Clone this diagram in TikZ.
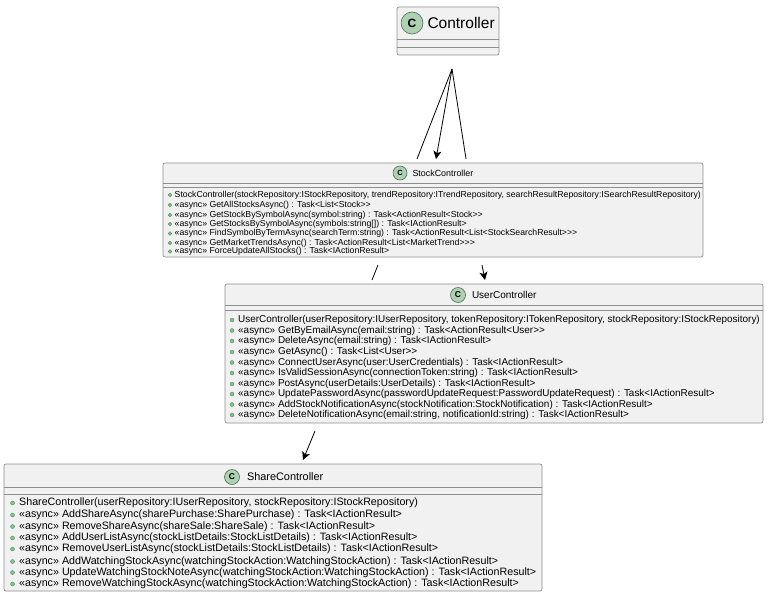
\documentclass[tikz,border=0pt]{standalone}
\usepackage{fontspec}
\setmainfont{Liberation Sans}[Ligatures=TeXOff]
\usetikzlibrary{arrows.meta,positioning}
\definecolor{boxfill}{HTML}{F1F1F1}
\definecolor{boxline}{HTML}{8E8E8E}
\definecolor{spot}{HTML}{ADD1B2}
\definecolor{spotline}{HTML}{4F6F55}
\definecolor{dotfill}{HTML}{84BE84}
\definecolor{dotline}{HTML}{3F8F5F}
\tikzset{
  cls/.style={draw=boxline,fill=boxfill,rounded corners=2pt,line width=0.7pt,inner sep=0pt},
  sepl/.style={draw=boxline,line width=0.7pt},
  spotc/.style={circle,draw=spotline,fill=spot,line width=0.6pt,inner sep=0pt,font=\bfseries},
  ttl/.style={anchor=west,inner sep=0pt},
  meth/.style={anchor=west,inner sep=0pt,yshift=-1pt},
  mdot/.style={circle,draw=dotline,fill=dotfill,line width=0.3pt,inner sep=0pt,minimum size=4pt},
  arr/.style={-{Stealth[length=8pt,width=8pt,inset=2pt]},line width=0.8pt,color=black},
  lnk/.style={line width=0.8pt,color=black},
}
\begin{document}
\begin{tikzpicture}[x=1pt,y=-1pt]
\useasboundingbox (0,0) rectangle (773,602);
% classes
\node[cls,minimum width=102pt,minimum height=48pt] (ctl) at (448,31) {};
\node[cls,minimum width=540pt,minimum height=94pt] (stock) at (433,210) {};
\node[cls,minimum width=538pt,minimum height=139pt] (user) at (494,353.5) {};
\node[cls,minimum width=538pt,minimum height=127pt] (share) at (273,527.5) {};
\draw[sepl] (397,39)--(499,39) (397,47)--(499,47);
\draw[sepl] (163,183)--(703,183) (163,187)--(703,187);
\draw[sepl] (225,305)--(763,305) (225,310)--(763,310);
\draw[sepl] (4,487)--(542,487) (4,494)--(542,494);
% headers
\node[spotc,minimum size=22pt,font=\bfseries\fontsize{12}{12}\selectfont] (ctlc) at (412,23) {C};
\node[ttl,right=4pt of ctlc,font=\fontsize{15.5}{16}\selectfont] (ctlt) {Controller};
\node[spotc,minimum size=14pt,font=\bfseries\fontsize{7.5}{8}\selectfont] (stockc) at (400,173) {C};
\node[ttl,right=5pt of stockc,font=\fontsize{8.9}{9}\selectfont] (stockt) {StockController};
\node[spotc,minimum size=15pt,font=\bfseries\fontsize{8.5}{9}\selectfont] (userc) at (458,295) {C};
\node[ttl,right=6pt of userc,font=\fontsize{10}{10}\selectfont] (usert) {UserController};
\node[spotc,minimum size=15pt,font=\bfseries\fontsize{8.5}{9}\selectfont] (sharec) at (232,477) {C};
\node[ttl,right=7pt of sharec,font=\fontsize{10.9}{11}\selectfont] (sharet) {ShareController};
% methods
\foreach \yy/\txt [count=\i] in {
  194/{StockController(stockRepository:IStockRepository, trendRepository:ITrendRepository, searchResultRepository:ISearchResultRepository)},
  204/{«async» GetAllStocksAsync() : Task<List<Stock>>},
  214/{«async» GetStockBySymbolAsync(symbol:string) : Task<ActionResult<Stock>>},
  223/{«async» GetStocksBySymbolAsync(symbols:string[]) : Task<IActionResult>},
  232.5/{«async» FindSymbolByTermAsync(searchTerm:string) : Task<ActionResult<List<StockSearchResult>>>},
  242/{«async» GetMarketTrendsAsync() : Task<ActionResult<List<MarketTrend>>>},
  250.5/{«async» ForceUpdateAllStocks() : Task<IActionResult>}}{
  \node[mdot,minimum size=3.6pt,yshift=-1pt] (sd\i) at (170,\yy) {};
  \node[meth,font=\fontsize{8.72}{9}\selectfont] (sm\i) at (174.5,\yy) {\txt};
}
\foreach \yy/\txt [count=\i] in {
  319/{UserController(userRepository:IUserRepository, tokenRepository:ITokenRepository, stockRepository:IStockRepository)},
  329.5/{«async» GetByEmailAsync(email:string) : Task<ActionResult<User>>},
  340/{«async» DeleteAsync(email:string) : Task<IActionResult>},
  351/{«async» GetAsync() : Task<List<User>>},
  361.5/{«async» ConnectUserAsync(user:UserCredentials) : Task<IActionResult>},
  372/{«async» IsValidSessionAsync(connectionToken:string) : Task<IActionResult>},
  383/{«async» PostAsync(userDetails:UserDetails) : Task<IActionResult>},
  393/{«async» UpdatePasswordAsync(passwordUpdateRequest:PasswordUpdateRequest) : Task<IActionResult>},
  403.5/{«async» AddStockNotificationAsync(stockNotification:StockNotification) : Task<IActionResult>},
  414/{«async» DeleteNotificationAsync(email:string, notificationId:string) : Task<IActionResult>}}{
  \node[mdot,yshift=-1pt] (ud\i) at (232,\yy) {};
  \node[meth,font=\fontsize{9.95}{10}\selectfont] (um\i) at (238,\yy) {\txt};
}
\foreach \yy/\txt [count=\i] in {
  502/{ShareController(userRepository:IUserRepository, stockRepository:IStockRepository)},
  514/{«async» AddShareAsync(sharePurchase:SharePurchase) : Task<IActionResult>},
  525.5/{«async» RemoveShareAsync(shareSale:ShareSale) : Task<IActionResult>},
  537/{«async» AddUserListAsync(stockListDetails:StockListDetails) : Task<IActionResult>},
  548/{«async» RemoveUserListAsync(stockListDetails:StockListDetails) : Task<IActionResult>},
  560.5/{«async» AddWatchingStockAsync(watchingStockAction:WatchingStockAction) : Task<IActionResult>},
  571.5/{«async» UpdateWatchingStockNoteAsync(watchingStockAction:WatchingStockAction) : Task<IActionResult>},
  583/{«async» RemoveWatchingStockAsync(watchingStockAction:WatchingStockAction) : Task<IActionResult>}}{
  \node[mdot,yshift=-1pt] (shd\i) at (12.5,\yy) {};
  \node[meth,font=\fontsize{10.7}{11}\selectfont] (shm\i) at (19,\yy) {\txt};
}
% connectors
\coordinate (hub) at (452,69);
\coordinate (sl) at (417,159);
\coordinate (sa) at (436,159);
\coordinate (sr) at (466,159);
\coordinate (ma) at (378,265);
\coordinate (mb) at (372,280);
\coordinate (mc) at (482,265);
\coordinate (md) at (485,280);
\coordinate (le) at (315,431);
\coordinate (lf) at (303,460);
\draw[lnk](hub)--(sl);\draw[arr](hub)--(sa);\draw[lnk](hub)--(sr);
\draw[lnk](ma)--(mb);\draw[arr](mc)--(md);\draw[arr](le)--(lf);
\end{tikzpicture}
\end{document}
